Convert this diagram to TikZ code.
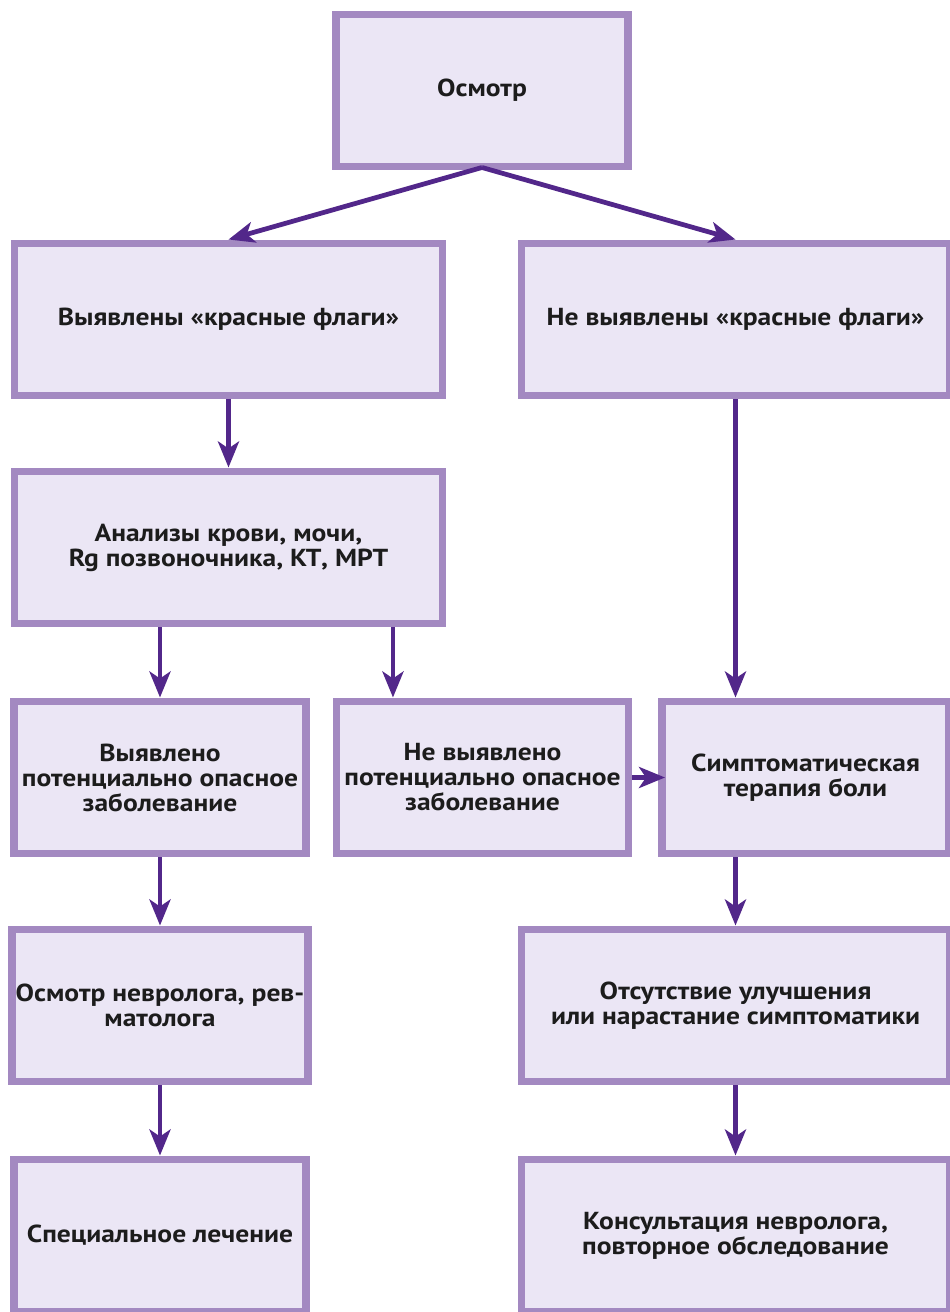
\documentclass[tikz,border=0pt]{standalone}
\usepackage{fontspec}
\setmainfont{PT Sans}[FakeStretch=1.12]
\usetikzlibrary{arrows.meta}
\definecolor{boxline}{HTML}{A389C1}
\definecolor{boxfill}{HTML}{EBE6F5}
\definecolor{arrline}{HTML}{52278A}
\definecolor{boxtext}{HTML}{1C1C1C}
\begin{document}
\begin{tikzpicture}[x=0.02cm, y=-0.02cm,
  box/.style={rectangle, draw=boxline, fill=boxfill, line width=0.15cm, minimum height=3.05cm, inner sep=2pt, align=center, text=boxtext, font=\fontsize{14pt}{14.2pt}\selectfont\bfseries},
  narrow/.style={box, minimum width=5.85cm},
  wide/.style={box, minimum width=8.57cm},
  arr/.style={draw=arrline, line width=0.095cm, -{Stealth[length=0.52cm, width=0.42cm, inset=0.14cm]}}]
\useasboundingbox (0,0) rectangle (950,1312);
\node[narrow] (osm) at (482,90.5) {Осмотр};
\node[wide] (red) at (228.5,319.5) {Выявлены «красные флаги»};
\node[wide] (nored) at (735.5,319.5) {Не выявлены «красные флаги»};
\node[wide] (anal) at (228.5,547.5) {Анализы крови, мочи,\\Rg позвоночника, КТ, МРТ};
\node[narrow] (dang) at (160,777.5) {Выявлено\\потенциально опасное\\заболевание};
\node[narrow] (nodang) at (482.5,777.5) {Не выявлено\\потенциально опасное\\заболевание};
\node[narrow, minimum width=5.75cm] (symp) at (805.5,777.5) {Симптоматическая\\терапия боли};
\node[narrow] (nevr) at (160,1005.5) {Осмотр невролога, рев-\\матолога};
\node[wide] (noimpr) at (735.5,1005.5) {Отсутствие улучшения\\или нарастание симптоматики};
\node[narrow] (spec) at (160,1235.5) {Специальное лечение};
\node[wide] (cons) at (735.5,1235.5) {Консультация невролога,\\повторное обследование};

\draw[arr] ([yshift=0.06cm]osm.south) -- (red.north);
\draw[arr] ([yshift=0.06cm]osm.south) -- (nored.north);
\draw[arr] (red.south) -- (anal.north);
\draw[arr] (dang.north |- anal.south) -- (dang.north);
\draw[arr] ([xshift=3.29cm]anal.south) -- ([xshift=3.29cm]anal.south |- nodang.north);
\draw[arr] (nored.south) -- (nored.south |- symp.north);
\draw[arr, shorten >=-0.14cm] (nodang.east) -- (symp.west);
\draw[arr] (noimpr.north |- symp.south) -- (noimpr.north);
\draw[arr] (noimpr.south) -- (cons.north);
\draw[arr] (dang.south) -- (nevr.north);
\draw[arr] (nevr.south) -- (spec.north);
\end{tikzpicture}
\end{document}
